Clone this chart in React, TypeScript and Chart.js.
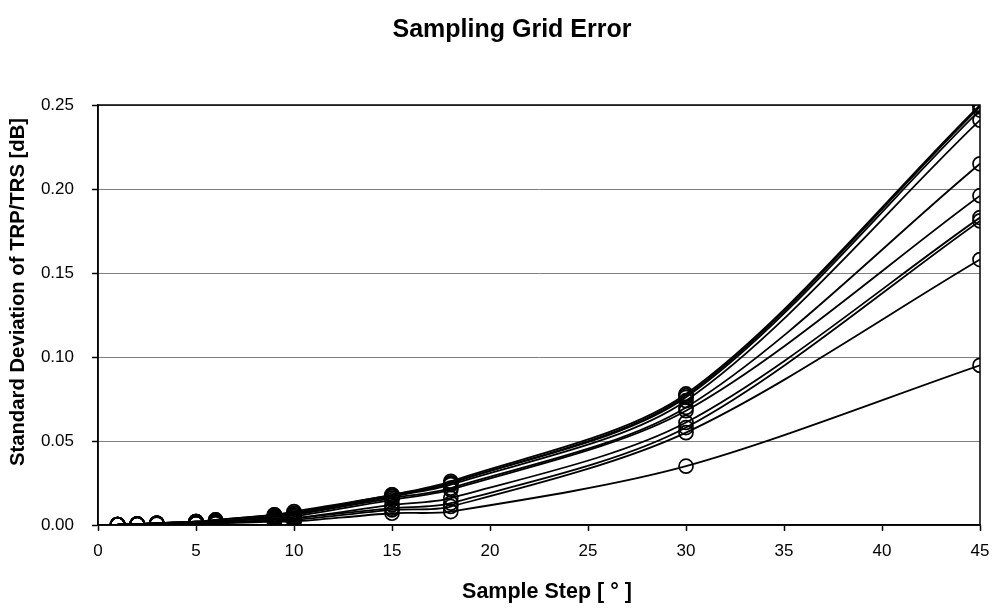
import React, { useEffect, useRef } from "react";
import { Chart, registerables } from "chart.js";

Chart.register(...registerables);

const steps = [1, 2, 3, 5, 6, 9, 10, 15, 18, 30, 45];

const series1 = [0.0002, 0.0005, 0.001, 0.002, 0.003, 0.006, 0.008, 0.018, 0.026, 0.078, 0.25];
const series2 = [0.0002, 0.0005, 0.001, 0.002, 0.003, 0.006, 0.007, 0.018, 0.025, 0.077, 0.249];
const series3 = [0.0002, 0.0005, 0.001, 0.002, 0.002, 0.005, 0.007, 0.017, 0.025, 0.076, 0.247];
const series4 = [0.0002, 0.0005, 0.001, 0.002, 0.002, 0.005, 0.006, 0.017, 0.024, 0.074, 0.241];
const series5 = [0.0002, 0.0005, 0.001, 0.002, 0.002, 0.005, 0.006, 0.016, 0.022, 0.070, 0.215];
const series6 = [0.0002, 0.0005, 0.001, 0.001, 0.002, 0.004, 0.005, 0.015, 0.021, 0.068, 0.196];
const series7 = [0.0002, 0.0005, 0.001, 0.001, 0.002, 0.004, 0.004, 0.012, 0.016, 0.061, 0.183];
const series8 = [0.0002, 0.0005, 0.001, 0.001, 0.001, 0.003, 0.004, 0.010, 0.013, 0.058, 0.181];
const series9 = [0.0002, 0.0005, 0.0008, 0.001, 0.001, 0.003, 0.003, 0.009, 0.011, 0.055, 0.158];
const series10 = [0.0002, 0.0004, 0.0005, 0.001, 0.001, 0.002, 0.002, 0.007, 0.008, 0.035, 0.095];

const allSeries = [series1, series2, series3, series4, series5, series6, series7, series8, series9, series10];

const chartTitle = "Sampling Grid Error";
const xTitle = "Sample Step [ ° ]";
const yTitle = "Standard Deviation of TRP/TRS [dB]";

const FONT = "Arial, 'Liberation Sans', Helvetica, sans-serif";

const frame = {
  id: "frame",
  afterDatasetsDraw(chart: any) {
    const { ctx, chartArea } = chart;
    ctx.save();
    ctx.strokeStyle = "#000";
    ctx.lineWidth = 1.5;
    ctx.strokeRect(chartArea.left, chartArea.top, chartArea.right - chartArea.left, chartArea.bottom - chartArea.top);
    ctx.restore();
  },
};

const titles = {
  id: "titles",
  afterDraw(chart: any) {
    const { ctx } = chart;
    ctx.save();
    ctx.fillStyle = "#000";
    ctx.textAlign = "center";
    ctx.textBaseline = "middle";
    ctx.font = `bold 25px ${FONT}`;
    ctx.fillText(chartTitle, 512, 30);
    ctx.font = `bold 21.5px ${FONT}`;
    ctx.fillText(xTitle, 547, 592);
    ctx.translate(18, 292);
    ctx.rotate(-Math.PI / 2);
    ctx.font = `bold 20.3px ${FONT}`;
    ctx.fillText(yTitle, 0, 0);
    ctx.restore();
  },
};

export default function App() {
  const ref = useRef<HTMLCanvasElement | null>(null);
  useEffect(() => {
    if (!ref.current) return;
    const chart = new Chart(ref.current, {
      type: "line",
      data: {
        datasets: allSeries.map((s, i) => ({
          label: `Series ${i + 1}`,
          data: s.map((v, j) => ({ x: steps[j], y: v })),
          borderColor: "#000",
          backgroundColor: "rgba(0,0,0,0)",
          borderWidth: 1.8,
          pointRadius: 7,
          pointBorderWidth: 1.7,
          pointBorderColor: "#000",
          pointBackgroundColor: "rgba(0,0,0,0)",
          tension: 0.3,
          fill: false,
        })),
      },
      plugins: [frame, titles],
      options: {
        animation: false,
        responsive: false,
        maintainAspectRatio: false,
        layout: { padding: { left: 0, right: 13, top: 105, bottom: 0 } },
        plugins: {
          legend: { display: false },
          tooltip: { enabled: false },
          title: { display: false },
        },
        scales: {
          x: {
            type: "linear",
            min: 0,
            max: 45,
            ticks: {
              stepSize: 5,
              color: "#000",
              font: { family: FONT, size: 17 },
              padding: 10,
              maxRotation: 0,
            },
            grid: { drawOnChartArea: false, drawTicks: true, tickLength: 6, tickColor: "#000", tickWidth: 1.5 },
            border: { display: true, color: "#000", width: 1.5 },
            title: { display: false },
            afterFit(scale: any) {
              scale.height = 87;
              scale.paddingRight = 0;
              scale.paddingLeft = 0;
            },
          },
          y: {
            type: "linear",
            min: 0,
            max: 0.25,
            ticks: {
              stepSize: 0.05,
              color: "#000",
              font: { family: FONT, size: 17 },
              padding: 18,
              callback: (v: any) => Number(v).toFixed(2),
            },
            grid: { color: "#808080", lineWidth: 1, drawTicks: true, tickLength: 6, tickColor: "#000", tickWidth: 1.5 },
            border: { display: true, color: "#000", width: 1.5 },
            title: { display: false },
            afterFit(scale: any) {
              scale.width = 98;
              scale.paddingTop = 0;
            },
          },
        },
      },
    });
    return () => chart.destroy();
  }, []);
  return (
    <div style={{ position: "absolute", left: 0, top: 0, width: 993, height: 612, background: "#fff" }}>
      <canvas ref={ref} width={993} height={612} style={{ width: 993, height: 612 }} />
    </div>
  );
}
